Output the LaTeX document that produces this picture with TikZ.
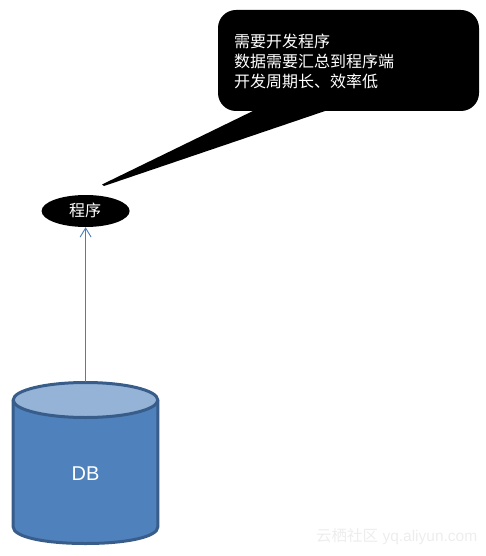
\documentclass[tikz,border=0pt]{standalone}
\usepackage{fontspec}
\setmainfont{Liberation Sans}
\newfontfamily\cjkfont{Noto Sans CJK SC}
\usetikzlibrary{arrows.meta,shapes.geometric}
\definecolor{dbfill}{HTML}{4F81BD}
\definecolor{dbtop}{HTML}{95B3D7}
\definecolor{dbline}{HTML}{385D8A}
\definecolor{arrowline}{HTML}{4A7EBB}
\definecolor{wmark}{HTML}{EDEDED}
\tikzset{
  dbshape/.style={draw=dbline,line width=3pt,line join=round},
  flow/.style={draw=arrowline,line width=0.9pt,-{Straight Barb[length=9pt,width=11pt,line width=0.9pt]}},
  whitetext/.style={text=white,font=\cjkfont\fontsize{16}{20}\selectfont,inner sep=0pt},
  marktext/.style={text=wmark,font=\fontsize{15.5}{18}\selectfont,inner sep=0pt,anchor=west}
}
\begin{document}
\begin{tikzpicture}[x=1pt,y=-1pt]
\useasboundingbox (0,0) rectangle (486,556);
% callout
\path[fill=black,line join=round] (255,110) -- (102,184.5) -- (104,186) -- (328,110) -- cycle;
\path[fill=black,rounded corners=18pt] (218,10) rectangle (479,111);
\node[whitetext,anchor=west,align=left] (note) at (234,61) {需要开发程序\\数据需要汇总到程序端\\开发周期长、效率低};
% program ellipse
\node[ellipse,fill=black,minimum width=88pt,minimum height=32pt,inner sep=0pt] (prog) at (85.6,211) {};
\node[whitetext] (progtext) at (85,210) {程序};
% database
\path[dbshape,fill=dbfill] (13.2,400) -- (13.2,527) .. controls (13.2,537) and (45,543.5) .. (85.5,543.5) .. controls (126,543.5) and (157.8,537) .. (157.8,527) -- (157.8,400) -- cycle;
\draw[dbshape,fill=dbtop] (85.5,400) ellipse[x radius=72.3,y radius=17.5];
\node[inner sep=0pt,text=white,font=\fontsize{20}{24}\selectfont] (db) at (85.5,474) {DB};
\coordinate (dbtopedge) at (prog.south |- 0,382);
\draw[flow] (dbtopedge) -- (prog.south);
% watermark
\node[marktext] (mark) at (316,537) {{\cjkfont 云栖社区} yq.aliyun.com};
\end{tikzpicture}
\end{document}
